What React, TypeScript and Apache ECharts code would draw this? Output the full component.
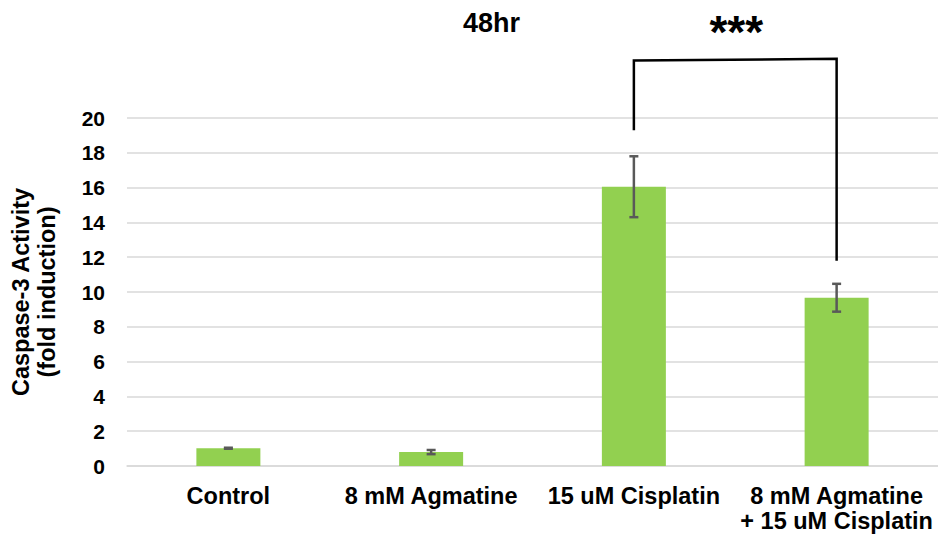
import React, { useEffect, useRef } from "react";
import * as echarts from "echarts";

const categories = ["Control", "8 mM Agmatine", "15 uM Cisplatin", "8 mM Agmatine\n+ 15 uM Cisplatin"];
const values = [1.02, 0.8, 16.05, 9.67];
const errors = [0.03, 0.12, 1.75, 0.8];
const yTicks = { min: 0, max: 20, interval: 2 };
const bracketLeft = [2, 19.3, 23.3];
const bracketRight = [3, 11.8, 23.4];
const significance = "***";
const titleText = "48hr";

const FONT = "Arial, 'Liberation Sans', sans-serif";

export default function App() {
  const ref = useRef<HTMLDivElement>(null);
  useEffect(() => {
    if (!ref.current) return;
    const chart = echarts.init(ref.current, undefined, { renderer: "svg" });
    const errData = values.map((v, i) => [i, v - errors[i], v + errors[i]]);
    chart.setOption({
      animation: false,
      backgroundColor: "#ffffff",
      title: {
        text: titleText,
        left: 458,
        top: 4,
        textStyle: { fontFamily: FONT, fontSize: 27, fontWeight: "bold", color: "#000" },
      },
      grid: { left: 122, right: 0, top: 118, bottom: 68, containLabel: false },
      xAxis: {
        type: "category",
        data: categories,
        axisLine: { show: true, lineStyle: { color: "#d9d9d9", width: 1.5 } },
        axisTick: { show: false },
        axisLabel: {
          fontFamily: FONT,
          fontSize: 23.5,
          fontWeight: "bold",
          color: "#000",
          margin: 17,
          lineHeight: 25,
          interval: 0,
        },
      },
      yAxis: {
        type: "value",
        min: yTicks.min,
        max: yTicks.max,
        interval: yTicks.interval,
        name: "Caspase-3 Activity\n(fold induction)",
        nameLocation: "middle",
        nameGap: 67,
        nameTextStyle: { fontFamily: FONT, fontSize: 23.5, fontWeight: "bold", color: "#000", lineHeight: 26 },
        axisLine: { show: false },
        axisTick: { show: false },
        axisLabel: { fontFamily: FONT, fontSize: 21, fontWeight: "bold", color: "#000", margin: 22 },
        splitLine: { lineStyle: { color: "#d9d9d9", width: 1.5 } },
      },
      series: [
        {
          type: "bar",
          data: values,
          barWidth: 64,
          itemStyle: { color: "#92d050" },
        },
        {
          type: "custom",
          data: errData,
          z: 10,
          renderItem: (params: any, api: any) => {
            const x = api.value(0);
            const lo = api.coord([x, api.value(1)]);
            const hi = api.coord([x, api.value(2)]);
            const cw = 4.5;
            const style = { stroke: "#595959", lineWidth: 2.5, fill: "none" };
            return {
              type: "group",
              children: [
                { type: "line", shape: { x1: lo[0], y1: lo[1], x2: hi[0], y2: hi[1] }, style },
                { type: "line", shape: { x1: lo[0] - cw, y1: lo[1], x2: lo[0] + cw, y2: lo[1] }, style },
                { type: "line", shape: { x1: hi[0] - cw, y1: hi[1], x2: hi[0] + cw, y2: hi[1] }, style },
              ],
            };
          },
        },
        {
          type: "custom",
          data: [[bracketLeft[0], bracketLeft[1], bracketLeft[2], bracketRight[0], bracketRight[1], bracketRight[2]]],
          clip: false,
          z: 10,
          renderItem: (params: any, api: any) => {
            const a0 = api.coord([api.value(0), api.value(1)]);
            const a1 = api.coord([api.value(0), api.value(2)]);
            const b1 = api.coord([api.value(3), api.value(5)]);
            const b0 = api.coord([api.value(3), api.value(4)]);
            return {
              type: "group",
              children: [
                {
                  type: "polyline",
                  shape: { points: [a0, a1, b1, b0] },
                  style: { stroke: "#000", lineWidth: 2.5, fill: "none" },
                },
                {
                  type: "text",
                  style: {
                    text: significance,
                    x: (a1[0] + b1[0]) / 2 + 1,
                    y: a1[1] - 29,
                    align: "center",
                    verticalAlign: "middle",
                    font: `bold 46px ${FONT}`,
                    fill: "#000",
                  },
                },
              ],
            };
          },
        },
      ],
    });
    return () => chart.dispose();
  }, []);
  return <div ref={ref} style={{ width: 938, height: 534, position: "absolute", left: 0, top: 0 }} />;
}
